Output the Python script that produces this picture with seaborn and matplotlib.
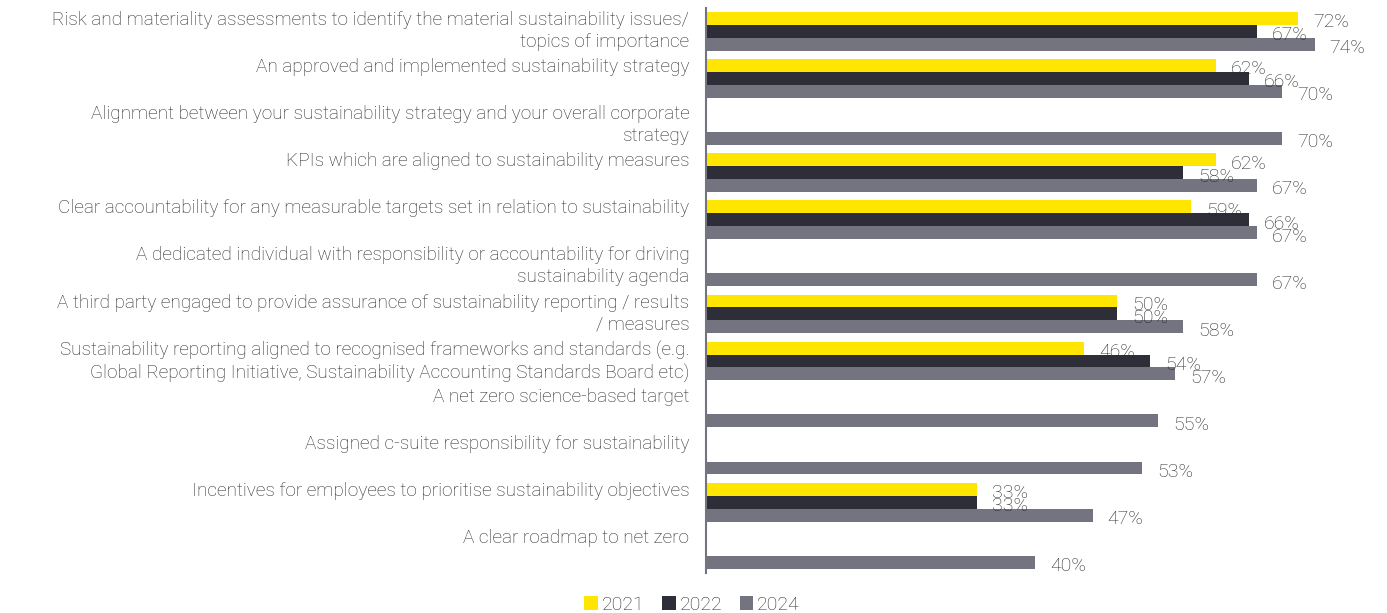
import numpy as np
import pandas as pd
import matplotlib
matplotlib.use("Agg")
import matplotlib.pyplot as plt
import seaborn as sns
from matplotlib.patches import Patch

categories = [
    "Risk and materiality assessments to identify the material sustainability issues/\ntopics of importance",
    "An approved and implemented sustainability strategy",
    "Alignment between your sustainability strategy and your overall corporate\nstrategy",
    "KPIs which are aligned to sustainability measures",
    "Clear accountability for any measurable targets set in relation to sustainability",
    "A dedicated individual with responsibility or accountability for driving\nsustainability agenda",
    "A third party engaged to provide assurance of sustainability reporting / results\n/ measures",
    "Sustainability reporting aligned to recognised frameworks and standards (e.g.\nGlobal Reporting Initiative, Sustainability Accounting Standards Board etc)",
    "A net zero science-based target",
    "Assigned c-suite responsibility for sustainability",
    "Incentives for employees to prioritise sustainability objectives",
    "A clear roadmap to net zero",
]
years = ["2021", "2022", "2024"]
v2021 = [72, 62, np.nan, 62, 59, np.nan, 50, 46, np.nan, np.nan, 33, np.nan]
v2022 = [67, 66, np.nan, 58, 66, np.nan, 50, 54, np.nan, np.nan, 33, np.nan]
v2024 = [74, 70, 70, 67, 67, 67, 58, 57, 55, 53, 47, 40]
colors = ["#FFE600", "#2E2E38", "#747480"]

rows = []
for yr, vals in zip(years, [v2021, v2022, v2024]):
    for c, v in zip(categories, vals):
        rows.append({"category": c, "year": yr, "value": v})
df = pd.DataFrame(rows)

sns.set_theme(style="white")
plt.rcParams["font.family"] = ["Roboto", "DejaVu Sans"]
text_color = "#2a2a2a"
fs = 13.7

fig = plt.figure(figsize=(13.87, 6.13), dpi=100)
ax = fig.add_axes([706 / 1387, 1 - 572.9 / 613, (1364 - 706) / 1387, (572.9 - 7.7) / 613])

sns.barplot(data=df, y="category", x="value", hue="year", hue_order=years,
            order=categories, palette=colors, orient="h", width=0.82,
            saturation=1, errorbar=None, ax=ax, legend=False, linewidth=0)

ax.set_xlim(0, 80)
ax.set_ylim(11.5, -0.5)
ax.set_xlabel("")
ax.set_ylabel("")
ax.set_xticks([])
for s in ["top", "right", "bottom"]:
    ax.spines[s].set_visible(False)
ax.spines["left"].set_color("#747480")
ax.spines["left"].set_linewidth(1.5)

ax.set_yticks(np.arange(len(categories)) - 0.43)
ax.set_yticklabels(categories, va="top", fontsize=fs, color=text_color,
                   linespacing=1.28, fontweight="light")
ax.tick_params(axis="y", length=0, pad=12)

for cont in ax.containers:
    for bar in cont:
        w = bar.get_width()
        if np.isnan(w) or w == 0:
            continue
        ax.annotate(f"{w:.0f}%", xy=(w, bar.get_y() + bar.get_height() / 2),
                    xytext=(15, -4), textcoords="offset pixels",
                    ha="left", va="center", fontsize=14, color=text_color,
                    fontweight="light")

handles = [Patch(facecolor=c, edgecolor="none") for c in colors]
fig.legend(handles, years, loc="lower center", bbox_to_anchor=(692 / 1387, -0.03),
           ncol=3, frameon=False, handlelength=0.7, handleheight=0.7,
           handletextpad=0.2, columnspacing=0.9, labelcolor=text_color,
           prop={"weight": "light", "size": 14})

fig.savefig("out.png", dpi=100)
